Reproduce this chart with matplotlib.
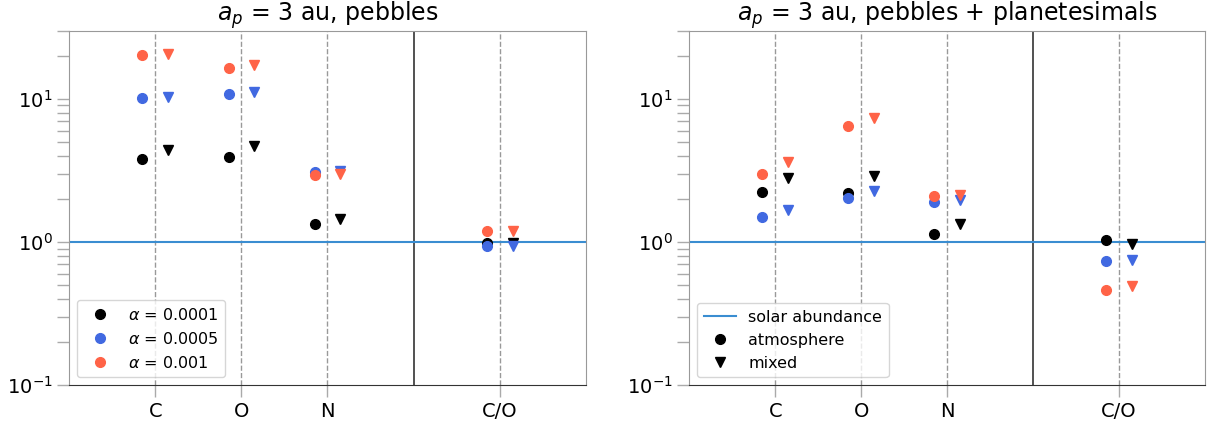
import matplotlib
matplotlib.use("Agg")
import matplotlib.pyplot as plt
from matplotlib.lines import Line2D

# Elemental abundances relative to solar, for three disc viscosities
elements = ["C", "O", "N", "C/O"]
alpha_labels = ["0.0001", "0.0005", "0.001"]
alpha_colors = ["black", "royalblue", "tomato"]

# pebbles only: atmosphere (circles) and mixed (triangles)
peb_atm_a1 = [3.82, 3.91, 1.34, 0.98]
peb_atm_a5 = [10.1, 10.9, 3.07, 0.93]
peb_atm_a10 = [20.2, 16.5, 2.96, 1.20]
peb_mix_a1 = [4.37, 4.66, 1.45, 0.98]
peb_mix_a5 = [10.4, 11.2, 3.15, 0.94]
peb_mix_a10 = [20.7, 17.4, 3.00, 1.20]

# pebbles + planetesimals
pla_atm_a1 = [2.22, 2.20, 1.14, 1.03]
pla_atm_a5 = [1.50, 2.04, 1.91, 0.736]
pla_atm_a10 = [3.00, 6.50, 2.09, 0.464]
pla_mix_a1 = [2.80, 2.91, 1.34, 0.97]
pla_mix_a5 = [1.68, 2.27, 1.95, 0.744]
pla_mix_a10 = [3.61, 7.36, 2.12, 0.495]

titles = [r"$a_p$ = 3 au, pebbles", r"$a_p$ = 3 au, pebbles + planetesimals"]

panels = [
    ([peb_atm_a1, peb_atm_a5, peb_atm_a10], [peb_mix_a1, peb_mix_a5, peb_mix_a10]),
    ([pla_atm_a1, pla_atm_a5, pla_atm_a10], [pla_mix_a1, pla_mix_a5, pla_mix_a10]),
]

xpos = [0, 1, 2, 4]
offset = 0.15
solar_color = "#3a8dd1"

fig = plt.figure(figsize=(12.11, 4.23), dpi=100)
axes = [
    fig.add_axes([0.05722, 0.08983, 0.42642, 0.83759]),
    fig.add_axes([0.56920, 0.08983, 0.42584, 0.83759]),
]

for ax, title, (atm, mix) in zip(axes, titles, panels):
    ax.set_yscale("log")
    ax.set_ylim(0.1, 30)
    ax.set_xlim(-1, 5)
    ax.set_xticks(xpos)
    ax.set_xticklabels(elements)
    ax.grid(axis="x", linestyle="--", color="#999999", linewidth=1, zorder=1)
    ax.axvline(3, color="#333333", linewidth=1.2, zorder=2)
    ax.axhline(1, color=solar_color, linewidth=1.5, zorder=2)
    for col, a_vals, m_vals in zip(alpha_colors, atm, mix):
        ax.plot([x - offset for x in xpos], a_vals, linestyle="none", marker="o",
                markersize=7, color=col, zorder=3)
        ax.plot([x + offset for x in xpos], m_vals, linestyle="none", marker="v",
                markersize=7.5, color=col, zorder=3)
    ax.set_title(title, fontsize=17)
    ax.tick_params(axis="both", which="both", direction="out", length=8.5,
                   width=1, color="#aaaaaa", labelsize=14)
    for side in ["left", "top", "right"]:
        ax.spines[side].set_color("#999999")
    ax.spines["bottom"].set_color("#333333")

alpha_handles = [
    Line2D([], [], linestyle="none", marker="o", markersize=7, color=c,
           label=r"$\alpha$ = " + lab)
    for c, lab in zip(alpha_colors, alpha_labels)
]
axes[0].legend(handles=alpha_handles, loc="lower left", fontsize=11.5)

kind_handles = [
    Line2D([], [], color=solar_color, linewidth=1.5, label="solar abundance"),
    Line2D([], [], linestyle="none", marker="o", markersize=7, color="black",
           label="atmosphere"),
    Line2D([], [], linestyle="none", marker="v", markersize=7.5, color="black",
           label="mixed"),
]
axes[1].legend(handles=kind_handles, loc="lower left", fontsize=11.5)

fig.savefig("out.png", dpi=100)
